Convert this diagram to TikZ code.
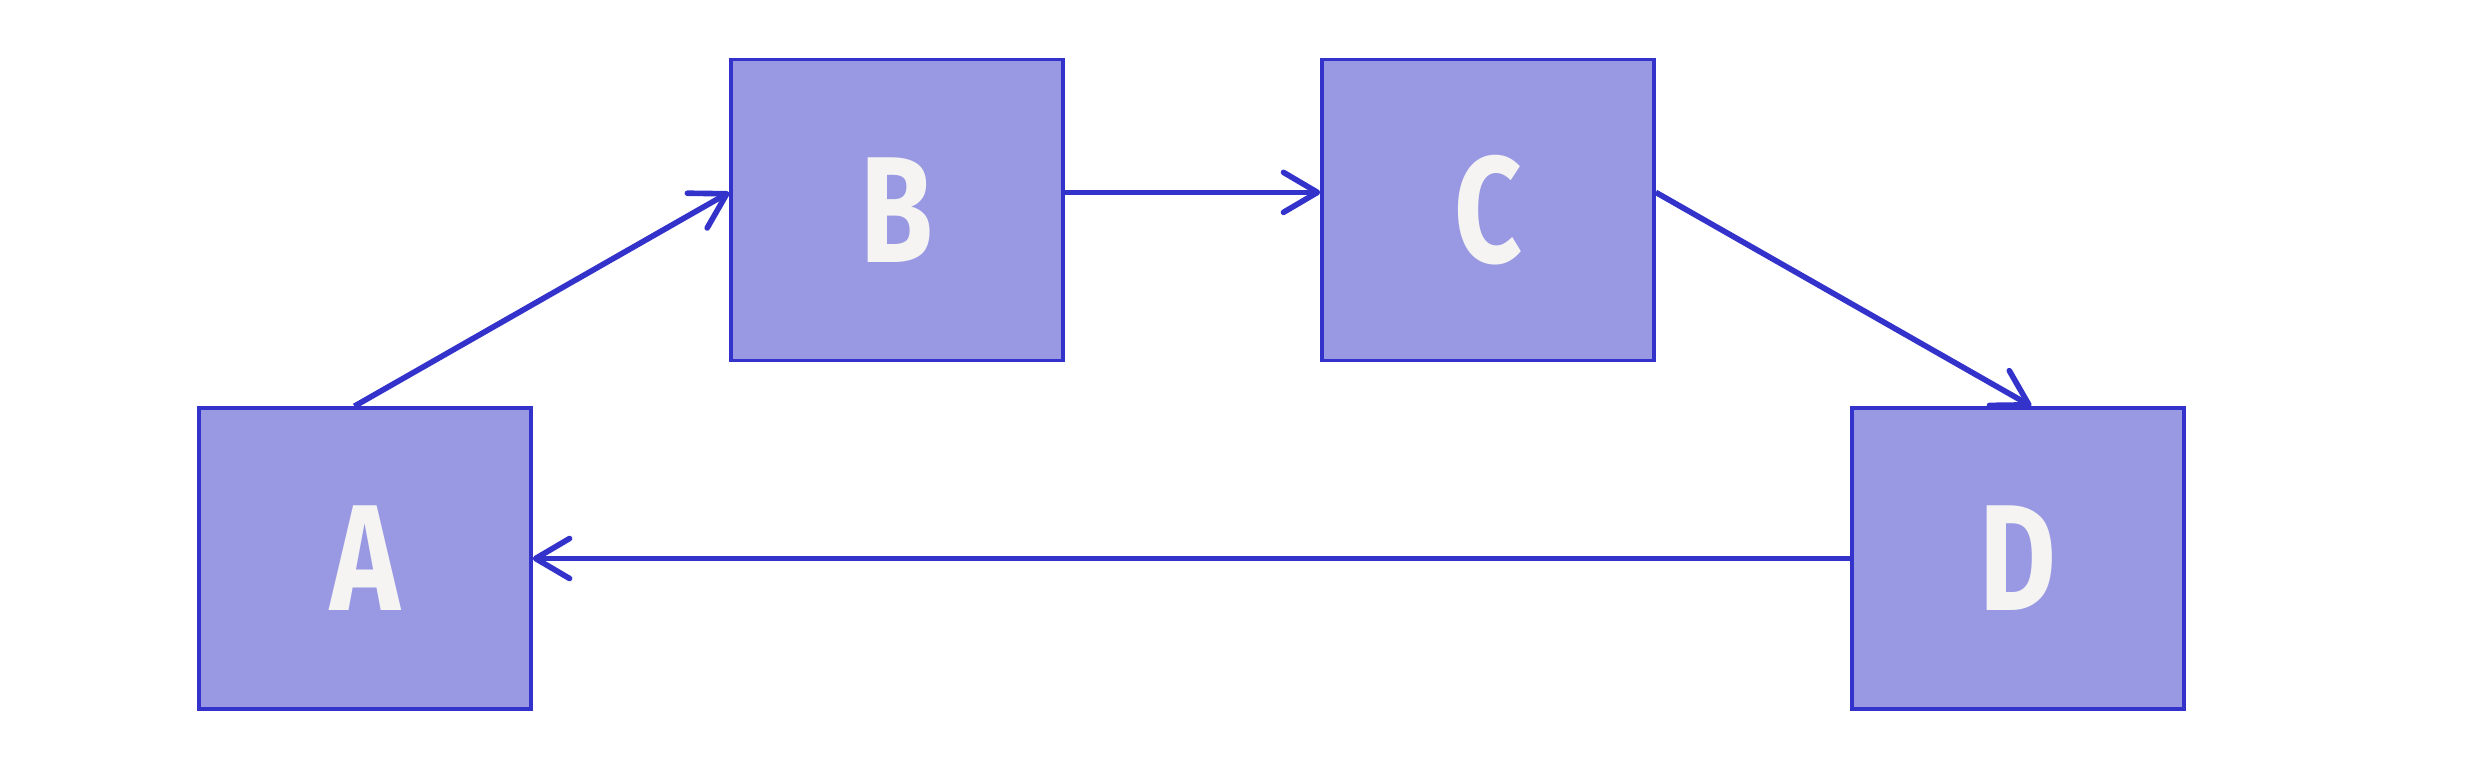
\documentclass[tikz,border=0pt]{standalone}
\usepackage{fontspec}
\setsansfont{Fira Sans}[FakeStretch=0.78]
\usetikzlibrary{arrows.meta, positioning}
\definecolor{boxfill}{HTML}{9999E3}
\definecolor{boxline}{HTML}{3333CC}
\definecolor{boxtext}{HTML}{F5F4F2}

\begin{document}
\begin{tikzpicture}[box/.style={draw=boxline, fill=boxfill, line width=1pt, minimum width=3.32cm, minimum height=3.01cm, inner sep=0pt, text=boxtext, font=\sffamily\bfseries\fontsize{43}{43}\selectfont},
	link/.style={draw=boxline, line width=1.6pt, -{Straight Barb[length=3.4mm, width=4mm, round]}}]
			\useasboundingbox (0,0) rectangle (24.8,7.73);
			\node[box] (a) at (3.65,2.145) {A};
			\node[box, above right=0.44cm and 1.965cm of a] (b) {B};
			\node[box, right=2.555cm of b] (c) {C};
			\node[box, below right=0.44cm and 1.945cm of c] (d) {D};
			\draw[link] (a.94) -- (b.174);
			\draw[link] (b.6) -- (c.174);
			\draw[link] (c.6) -- (d.85);
			\draw[link] (d.west) -- (a.east);
		\end{tikzpicture}
\end{document}
